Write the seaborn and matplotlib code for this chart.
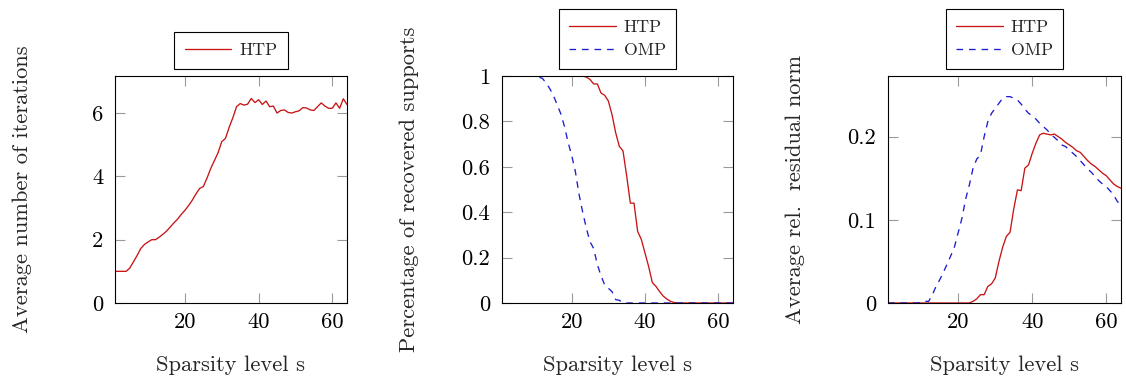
import numpy as np
import pandas as pd
import matplotlib
matplotlib.use("Agg")
import matplotlib.pyplot as plt
import seaborn as sns

# ---------------- data ----------------
sparsity = list(range(1, 65))

htp_iterations = [1.0, 1.0, 1.0, 1.0, 1.1, 1.3, 1.5, 1.72, 1.85, 1.93,
                  2.0, 2.0, 2.08, 2.17, 2.27, 2.4, 2.53, 2.65, 2.8, 2.93,
                  3.08, 3.25, 3.45, 3.62, 3.68, 3.95, 4.25, 4.5, 4.75, 5.1,
                  5.2, 5.55, 5.85, 6.2, 6.3, 6.25, 6.28, 6.46, 6.33, 6.42,
                  6.27, 6.38, 6.2, 6.22, 6.0, 6.08, 6.1, 6.02, 6.0, 6.04,
                  6.07, 6.17, 6.16, 6.1, 6.08, 6.2, 6.32, 6.22, 6.15, 6.15,
                  6.32, 6.15, 6.45, 6.27]

htp_recovery = [1.0] * 23 + [0.995, 0.985, 0.965, 0.965, 0.925, 0.915, 0.89,
                             0.83, 0.75, 0.69, 0.67, 0.56, 0.44, 0.44, 0.315,
                             0.28, 0.22, 0.16, 0.09, 0.073, 0.05, 0.03, 0.017,
                             0.007, 0.002] + [0.0] * 16

omp_recovery = [1.0] * 10 + [0.995, 0.99, 0.97, 0.945, 0.915, 0.875, 0.835,
                             0.78, 0.71, 0.65, 0.58, 0.48, 0.40, 0.33, 0.27,
                             0.24, 0.17, 0.12, 0.08, 0.065, 0.05, 0.015, 0.012,
                             0.0] + [0.0] * 30

htp_residual = [0.0] * 23 + [0.002, 0.005, 0.01, 0.01, 0.02, 0.023, 0.03, 0.05,
                             0.067, 0.08, 0.085, 0.113, 0.136, 0.135, 0.162,
                             0.166, 0.18, 0.192, 0.202, 0.204, 0.203, 0.202,
                             0.203, 0.2, 0.197, 0.193, 0.19, 0.187, 0.183,
                             0.181, 0.176, 0.171, 0.167, 0.164, 0.16, 0.156,
                             0.153, 0.148, 0.143, 0.14, 0.138]

omp_residual = [0.0] * 9 + [0.001, 0.002, 0.002, 0.01, 0.02, 0.028, 0.037,
                            0.047, 0.057, 0.068, 0.085, 0.102, 0.125, 0.142,
                            0.162, 0.173, 0.178, 0.2, 0.218, 0.228, 0.234,
                            0.24, 0.246, 0.248, 0.248, 0.246, 0.244, 0.239,
                            0.233, 0.228, 0.225, 0.221, 0.216, 0.212, 0.208,
                            0.203, 0.199, 0.195, 0.19, 0.188, 0.184, 0.18,
                            0.176, 0.171, 0.166, 0.161, 0.157, 0.152, 0.147,
                            0.143, 0.14, 0.135, 0.13, 0.122, 0.118]

x_ticks = [20, 40, 60]
y_ticks_1 = [0, 2, 4, 6]
y_ticks_2 = [0, 0.2, 0.4, 0.6, 0.8, 1.0]
y_labels_2 = ["0", "0.2", "0.4", "0.6", "0.8", "1"]
y_ticks_3 = [0, 0.1, 0.2]
y_labels_3 = ["0", "0.1", "0.2"]

x_label = "Sparsity level s"
y_label_1 = "Average number of iterations"
y_label_2 = "Percentage of recovered supports"
y_label_3 = "Average rel.  residual norm"

# ---------------- style ----------------
sns.set_theme(style="white")
plt.rcParams["font.family"] = "serif"
plt.rcParams["font.serif"] = ["cmr10", "DejaVu Serif"]
plt.rcParams["axes.formatter.use_mathtext"] = True
plt.rcParams["mathtext.fontset"] = "cm"

FS = 16.2
LEG_FS = 12.8
RED = "#c81414"
BLUE = "#1c1cd0"

W, H = 1126, 381
fig = plt.figure(figsize=(W / 100, H / 100), dpi=100)
fig.patch.set_facecolor("white")


def make_ax(left, right, top=76, bottom=303):
    return fig.add_axes([left / W, (H - bottom) / H, (right - left) / W, (bottom - top) / H])


ax1 = make_ax(115, 347)
ax2 = make_ax(502, 733)
ax3 = make_ax(888, 1121)

df = pd.DataFrame({
    "s": sparsity,
    "htp_it": htp_iterations,
    "htp_rec": htp_recovery,
    "omp_rec": omp_recovery,
    "htp_res": htp_residual,
    "omp_res": omp_residual,
})

LW = 0.95
DASH = (0, (5, 4.5))
sns.lineplot(data=df, x="s", y="htp_it", ax=ax1, color=RED, lw=LW, label="HTP")
sns.lineplot(data=df, x="s", y="htp_rec", ax=ax2, color=RED, lw=LW, label="HTP")
sns.lineplot(data=df, x="s", y="omp_rec", ax=ax2, color=BLUE, lw=LW,
             linestyle=DASH, label="OMP")
sns.lineplot(data=df, x="s", y="htp_res", ax=ax3, color=RED, lw=LW, label="HTP")
sns.lineplot(data=df, x="s", y="omp_res", ax=ax3, color=BLUE, lw=LW,
             linestyle=DASH, label="OMP")

settings = [
    (ax1, (0, 7.17), y_ticks_1, [str(v) for v in y_ticks_1], y_label_1, 232),
    (ax2, (0, 1.0), y_ticks_2, y_labels_2, y_label_2, 231),
    (ax3, (0, 0.2728), y_ticks_3, y_labels_3, y_label_3, 233),
]

for ax, ylim, yt, ytl, ylab, width_px in settings:
    ax.set_xlim(1, 64)
    ax.set_ylim(*ylim)
    ax.set_xticks(x_ticks)
    ax.set_xticklabels([str(v) for v in x_ticks])
    ax.set_yticks(yt)
    ax.set_yticklabels(ytl)
    ax.tick_params(axis="both", which="major", direction="in", length=7.5,
                   width=0.8, color="#9a9a9a", labelsize=FS, labelcolor="black",
                   top=True, right=True, bottom=True, left=True)
    ax.tick_params(axis="x", pad=6.5)
    ax.tick_params(axis="y", pad=8.4)
    for sp in ax.spines.values():
        sp.set_visible(True)
        sp.set_color("black")
        sp.set_linewidth(0.8)
    ax.set_xlabel(x_label, fontsize=FS)
    ax.set_ylabel(ylab, fontsize=FS)
    ax.xaxis.set_label_coords(0.5, -68 / 227)
    ax.xaxis.label.set_va("baseline")
    ax.yaxis.set_label_coords(-93 / width_px, 0.5)
    ax.yaxis.label.set_va("center")
    leg = ax.legend(loc="lower center", bbox_to_anchor=(0.5, 1.031),
                    fontsize=LEG_FS, frameon=True, fancybox=False, shadow=False,
                    borderaxespad=0, borderpad=0.6, handlelength=2.6,
                    handletextpad=0.45, labelspacing=0.42)
    fr = leg.get_frame()
    fr.set_edgecolor("black")
    fr.set_linewidth(0.8)
    fr.set_alpha(1)

fig.savefig("out.png", dpi=100, facecolor="white")
